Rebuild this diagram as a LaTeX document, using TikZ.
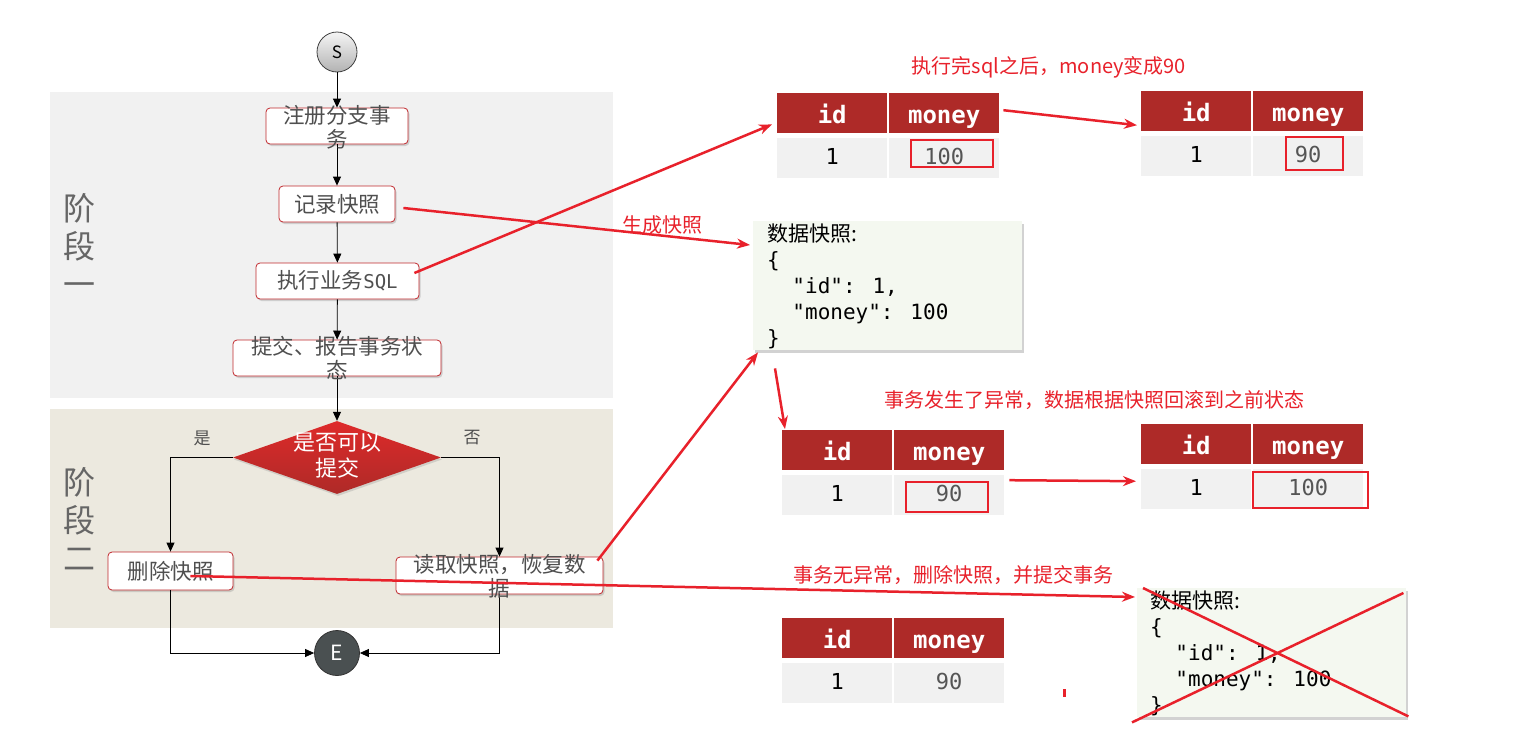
\documentclass[tikz,border=0pt]{standalone}
\usepackage{fontspec}
\setmainfont{Noto Sans CJK SC}
\newfontfamily\cjk{Noto Sans CJK SC}
\newfontfamily\mono{DejaVu Sans Mono}
\usetikzlibrary{arrows.meta,shapes.geometric,shadows,calc}
\definecolor{bgA}{HTML}{F1F1F1}
\definecolor{bgB}{HTML}{ECE9DF}
\definecolor{boxred}{HTML}{C0282D}
\definecolor{txtgray}{HTML}{4F4F4F}
\definecolor{ared}{HTML}{E8212B}
\definecolor{hdrred}{HTML}{AE2A28}
\definecolor{cellgray}{HTML}{F1F1F1}
\definecolor{valgray}{HTML}{555555}
\definecolor{snapbg}{HTML}{F4F8F0}
\definecolor{egray}{HTML}{4A5051}
\definecolor{stagetxt}{HTML}{666666}
\newcommand\dbtable[4]{%
  \node[hdr] (#1h1) at (#2,#3) {id};
  \node[hdr] (#1h2) at (#2+112,#3) {money};
  \node[cell, text=black] (#1r1) at (#2,#3+45) {1};
  \node[cell, text=valgray] (#1r2) at (#2+112,#3+45) {#4};
}
\begin{document}
\begin{tikzpicture}[x=1pt,y=-1pt,
  stage/.style={draw=none, anchor=north west, inner sep=0, minimum width=563pt},
  stagelbl/.style={text=stagetxt, font=\fontsize{32}{38}\selectfont, align=center},
  fbox/.style={draw=boxred, line width=0.8pt, fill=white, rounded corners=4pt, inner sep=0,
    drop shadow={shadow xshift=1.5pt, shadow yshift=-2pt, opacity=0.3}},
  ftext/.style={text=txtgray, font=\fontsize{21.5}{24}\selectfont, align=center, inner sep=0},
  flow/.style={-{Triangle[length=9pt,width=8pt]}, line width=0.8pt, black},
  redarrow/.style={-{Stealth[length=13pt,width=10pt]}, line width=2.5pt, draw=ared},
  redline/.style={line width=2.5pt, draw=ared},
  hlbox/.style={line width=2pt, draw=ared},
  hdr/.style={fill=hdrred, text=white, font=\mono\bfseries\fontsize{24}{24}\selectfont,
    text height=20pt, text depth=0pt,
    minimum width=110pt, minimum height=40pt, inner sep=0, anchor=north west},
  cell/.style={fill=cellgray, font=\mono\fontsize{22}{22}\selectfont,
    text height=16pt, text depth=4pt,
    minimum width=110pt, minimum height=40pt, inner sep=0, anchor=north west},
  snap/.style={fill=snapbg, draw=none, anchor=north west, inner sep=0,
    minimum width=269pt, minimum height=129pt,
    drop shadow={shadow xshift=1.5pt, shadow yshift=-2.5pt, opacity=0.35}},
  snaptext/.style={anchor=north west, align=left, inner sep=0, text=black,
    font=\fontsize{21}{26}\selectfont},
  note/.style={text=ared, font=\fontsize{20}{24}\selectfont, inner sep=0},
  yn/.style={text=txtgray, font=\fontsize{17}{20}\selectfont, inner sep=0},
  decision/.style={diamond, minimum width=208pt, minimum height=73pt, inner sep=0,
    top color=red!55!hdrred!90!white, bottom color=hdrred, draw=none,
    drop shadow={shadow xshift=1pt, shadow yshift=-2pt, opacity=0.25}},
  dtext/.style={text=white, font=\fontsize{22}{26}\selectfont, align=center, inner sep=0},
  startc/.style={circle, minimum size=40pt, inner sep=0, draw=black!75, line width=0.8pt,
    top color=white!96!black, bottom color=black!30, font=\fontsize{17}{17}\selectfont},
  endc/.style={circle, minimum size=45pt, inner sep=0, draw=black!80, line width=0.8pt,
    fill=egray, text=white, font=\fontsize{21}{21}\selectfont}
]
\useasboundingbox (0,0) rectangle (1513,755);
\fill[white] (0,0) rectangle (1513,755);

% stage backgrounds
\node[stage, fill=bgA, minimum height=306pt] (st1) at (50,92) {};
\node[stage, fill=bgB, minimum height=219pt] (st2) at (50,409) {};
\node[stagelbl] (lbl1) at (79,245) {阶\\段\\一};
\node[stagelbl] (lbl2) at (79,519) {阶\\段\\二};

% flow nodes
\node[startc] (S) at (337,52) {S};
\node[fbox, minimum width=142pt, minimum height=36pt] (b1) at (337,126) {};
\node[fbox, minimum width=116pt, minimum height=36pt] (b2) at (337,204) {};
\node[fbox, minimum width=163pt, minimum height=36pt] (b3) at (337.5,281) {};
\node[fbox, minimum width=208pt, minimum height=36pt] (b4) at (337,358) {};
\node[decision] (dec) at (337,457.5) {};
\node[fbox, minimum width=125pt, minimum height=38pt] (del) at (170.5,571) {};
\node[fbox, minimum width=207pt, minimum height=37pt] (rd) at (499.5,575.5) {};
\node[endc] (E) at (337,653) {E};

% flow connectors
\draw[flow] (S) -- (b1);
\draw[flow] (b1) -- (b2);
\draw[flow] (b2) -- (b3);
\draw[flow] (b3) -- (b4);
\draw[flow] (b4) -- (dec);
\draw[flow] (dec.west) -| (del.north);
\draw[flow] (dec.east) -| (rd.north);
\draw[flow] (del.south) |- (E.west);
\draw[flow] (rd.south) |- (E.east);

% flow texts
\node[ftext] (t1) at (337,127) {注册分支事\\务};
\node[ftext] (t2) at (b2) {记录快照};
\node[ftext] (t3) at (b3) {执行业务{\mono\fontsize{19}{19}\selectfont SQL}};
\node[ftext] (t4) at (337,357.5) {提交、报告事务状\\态};
\node[dtext] (td) at (337,456) {是否可以\\提交};
\node[ftext] (t5) at (del) {删除快照};
\node[ftext] (t6) at (499.5,576) {读取快照，恢复数\\据};
\node[yn] (yes) at (202,438) {是};
\node[yn] (no) at (472,438) {否};

% tables
\dbtable{tA}{777}{93}{100}
\dbtable{tB}{1141}{91}{90}
\dbtable{tC}{782}{430}{90}
\dbtable{tD}{1141}{424}{100}
\dbtable{tE}{782}{618}{90}
\draw[hlbox] (911,140) rectangle (993,167);
\draw[hlbox] (1286,137) rectangle (1343,170);
\draw[hlbox] (906,482) rectangle (988,512);
\draw[hlbox] (1253,472) rectangle (1368,508);

% snapshots
\node[snap] (snap1) at (753,221) {};
\node[snaptext] (s1t) at (767,224) {{\cjk 数据快照:}\\{\mono \{}\\{\mono\hphantom{xx}"id": 1,}\\{\mono\hphantom{xx}"money": 100}\\{\mono \}}};
\node[snap] (snap2) at (1137,588) {};
\node[snaptext] (s2t) at (1150,591) {{\cjk 数据快照:}\\{\mono \{}\\{\mono\hphantom{xx}"id": 1,}\\{\mono\hphantom{xx}"money": 100}\\{\mono \}}};
\draw[redline] ($(snap2.north west)+(6,0)$) -- ($(snap2.south east)+(2,-1)$);
\draw[redline] ($(snap2.south west)+(-5,5)$) -- ($(snap2.north east)+(-3,5)$);

% annotations
\node[note] (n1) at (1049,67) {执行完sql之后，money变成90};
\node[note] (n2) at (1094,400) {事务发生了异常，数据根据快照回滚到之前状态};
\node[note] (n3) at (953,575) {事务无异常，删除快照，并提交事务};
\node[note] (n4) at (662,225) {生成快照};

% red arrows
\draw[redarrow] ($(b3.east)+(-5,-8)$) -- ($(tAh1.south west)+(-5,-9)$);
\draw[redarrow] ($(b2.east)+(8,4)$) -- ($(snap1.north west)+(-3,24)$);
\draw[redarrow] ($(snap1.south west)+(22,18)$) -- ($(tCh1.north west)+(3,-1)$);
\draw[redarrow] ($(rd.north east)+(-6,4)$) -- ($(snap1.south west)+(5,2)$);
\draw[redarrow] ($(del.east)+(-43,5)$) -- ($(snap2.north west)+(-2,9)$);
\draw[redarrow] ($(tAh2.east)+(4,-3)$) -- ($(tBh1.west)+(-4,14)$);
\draw[redarrow] ($(tCr2.east)+(5,-15)$) -- ($(tDr1.west)+(-5,-8)$);

% small mark
\fill[ared] (1063,689) rectangle (1066,697);
\end{tikzpicture}
\end{document}
